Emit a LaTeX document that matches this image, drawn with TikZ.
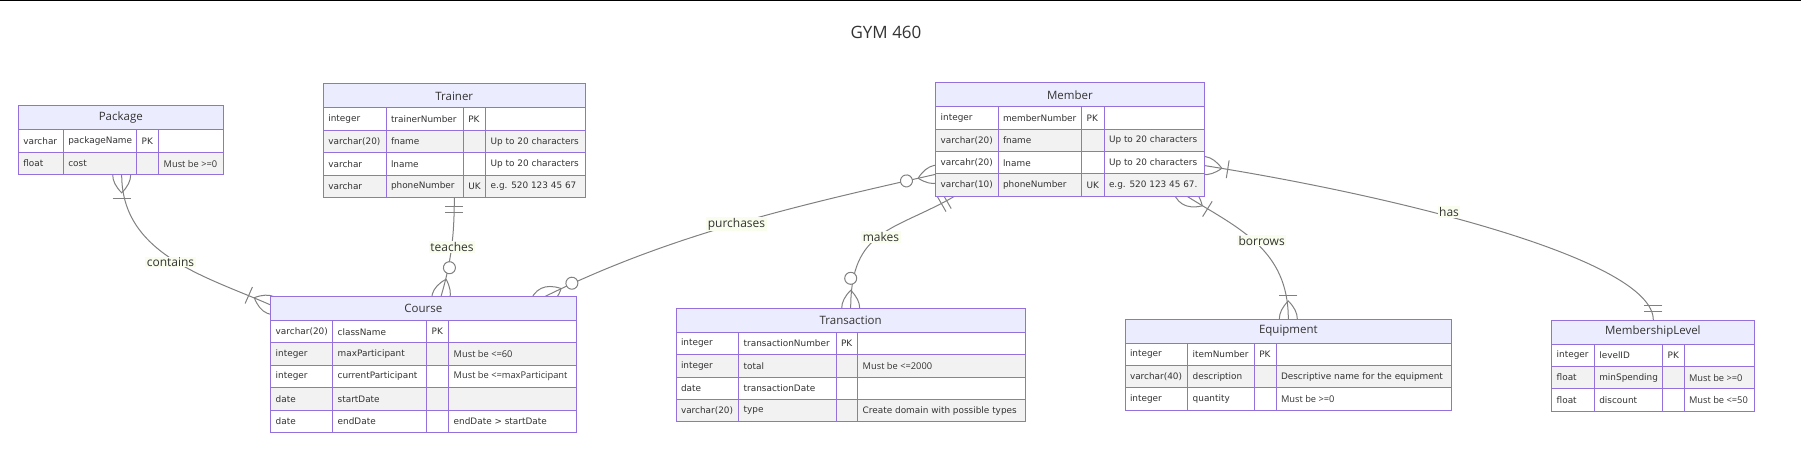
\documentclass[tikz,border=0pt]{standalone}
\usepackage{fontspec}
\setmainfont{DejaVu Sans}
\newfontfamily\hdrfont{Open Sans}
\definecolor{hdrfill}{RGB}{236,236,255}
\definecolor{erborder}{RGB}{147,112,219}
\definecolor{roweven}{RGB}{242,242,242}
\definecolor{txt}{RGB}{51,51,51}
\definecolor{relline}{RGB}{128,128,128}
\definecolor{lblbg}{RGB}{249,253,237}

\newcommand{\ermust}[1]{{\hdrfont\fontsize{9.3}{11}\selectfont #1}}

\tikzset{
  rel/.style={draw=relline, line width=1pt},
  oneormore/.pic={
    \draw[rel] (-18,0) .. controls (-6,12) and (6,12) .. (18,0) .. controls (6,-12) and (-6,-12) .. (-18,0);
    \draw[rel] (24,-9) -- (24,9);
  },
  zeroormore/.pic={
    \draw[rel] (-18,0) .. controls (-6,12) and (6,12) .. (18,0) .. controls (6,-12) and (-6,-12) .. (-18,0);
    \draw[rel, fill=white] (30,0) circle[radius=6];
  },
  onlyone/.pic={
    \draw[rel] (9,-9) -- (9,9) (15,-9) -- (15,9);
  },
  ehead/.style={draw=erborder, line width=1pt, fill=hdrfill, inner sep=0pt, outer sep=0pt,
    font=\hdrfont\fontsize{11.5}{13}\selectfont, text=txt},
  cell/.style={draw=erborder, line width=1pt, inner xsep=5pt, inner ysep=0pt, outer sep=0pt,
    minimum height=22.4pt, font=\fontsize{8.9}{11}\selectfont, text=txt, anchor=north west},
  rlabel/.style={fill=lblbg, inner xsep=1.5pt, inner ysep=1pt,
    font=\hdrfont\fontsize{12}{14}\selectfont, text=txt},
  titletext/.style={font=\hdrfont\fontsize{17}{20}\selectfont, text=txt},
}

% #1 id, #2 title, #3..#7 column edges x0..x4, #8 top y, #9 rows
\newcommand{\erentity}[9]{%
  \pgfmathsetmacro\erwidth{#7-#3}%
  \node[ehead, minimum width=\erwidth pt, minimum height=24pt, anchor=north west] (#1) at (#3,-#8) {#2};
  \pgfmathsetmacro\ercolA{#4-#3-10}%
  \pgfmathsetmacro\ercolB{#5-#4-10}%
  \pgfmathsetmacro\ercolC{#6-#5-10}%
  \pgfmathsetmacro\ercolD{#7-#6-10}%
  \foreach \ta/\na/\ka/\ca [count=\ri] in {#9} {%
    \pgfmathsetmacro\eryy{#8+24+(\ri-1)*22.4}%
    \ifodd\ri\relax \def\errf{white}\else \def\errf{roweven}\fi
    \node[cell, fill=\errf] (#1-\ri-t) at (#3,-\eryy) {\makebox[\ercolA pt][l]{\ta}};
    \node[cell, fill=\errf] (#1-\ri-n) at (#4,-\eryy) {\makebox[\ercolB pt][l]{\na}};
    \node[cell, fill=\errf] (#1-\ri-k) at (#5,-\eryy) {\makebox[\ercolC pt][l]{\ka}};
    \node[cell, fill=\errf] (#1-\ri-c) at (#6,-\eryy) {\makebox[\ercolD pt][l]{\ca}};
  }%
}

\begin{document}
\begin{tikzpicture}[x=1pt,y=1pt]
\useasboundingbox (0,0) rectangle (1801,-457);
\fill[black] (0,0) rectangle (1801,-1.5);
\node[titletext] (title) at (886,-32) {GYM 460};

% connector end points on the entity borders
\coordinate (pkgB)  at (121.7,-174.8);
\coordinate (crsL)  at (270.7,-305);
\coordinate (trnB)  at (454.3,-197.6);
\coordinate (crsT1) at (441,-296.5);
\coordinate (memL)  at (935.7,-174.3);
\coordinate (crsT2) at (545,-296.5);
\coordinate (memB1) at (954.5,-196.3);
\coordinate (trxT)  at (850.7,-308.3);
\coordinate (memB2) at (1187,-196.3);
\coordinate (eqpT)  at (1288.3,-319);
\coordinate (memR)  at (1204,-165.5);
\coordinate (mlvT)  at (1653.3,-320);

% connectors
\draw[rel] (pkgB) .. controls +(-90:80) and +(156.1:70) .. (crsL);
\draw[rel] (trnB) .. controls +(-90:40) and +(73.7:35) .. (crsT1);
\draw[rel] (memL) .. controls +(192.7:140) and +(26.3:140) .. (crsT2);
\draw[rel] (memB1) .. controls +(210:70) and +(90:80) .. (trxT);
\draw[rel] (memB2) .. controls +(-32:60) and +(90:70) .. (eqpT);
\draw[rel] (memR) .. controls +(-9:200) and +(90:60) .. (mlvT);

% end markers
\pic[rotate=-90] at (pkgB) {oneormore};
\pic[rotate=156.1] at (crsL) {oneormore};
\pic[rotate=-90] at (trnB) {onlyone};
\pic[rotate=73.7] at (crsT1) {zeroormore};
\pic[rotate=192.7] at (memL) {zeroormore};
\pic[rotate=26.3] at (crsT2) {zeroormore};
\pic[rotate=210] at (memB1) {onlyone};
\pic[rotate=90] at (trxT) {zeroormore};
\pic[rotate=-32] at (memB2) {oneormore};
\pic[rotate=90] at (eqpT) {oneormore};
\pic[rotate=-9] at (memR) {oneormore};
\pic[rotate=90] at (mlvT) {onlyone};

% relationship labels
\node[rlabel] (lcontains) at (170.5,-262) {contains};
\node[rlabel] (lteaches) at (452,-247) {teaches};
\node[rlabel] (lpurchases) at (736.5,-224) {purchases};
\node[rlabel] (lmakes) at (881,-237) {makes};
\node[rlabel] (lborrows) at (1261.6,-240.7) {borrows};
\node[rlabel] (lhas) at (1449,-212) {has};

% entities
\erentity{pkg}{Package}{18.3}{63.3}{136.7}{158.7}{223.3}{106}{varchar/packageName/PK/{}, float/cost/{}/{\ermust{Must be >=0}}}
\erentity{trn}{Trainer}{323.3}{386}{463.3}{485.7}{585.3}{84}{integer/trainerNumber/PK/{}, varchar(20)/fname/{}/Up to 20 characters, varchar/lname/{}/Up to 20 characters, varchar/phoneNumber/UK/e.g. 520 123 45 67}
\erentity{mem}{Member}{935.7}{998}{1081.7}{1104}{1204}{82.7}{integer/memberNumber/PK/{}, varchar(20)/fname/{}/Up to 20 characters, varcahr(20)/lname/{}/Up to 20 characters, varchar(10)/phoneNumber/UK/e.g. 520 123 45 67.}
\erentity{crs}{Course}{270.7}{332.7}{426.7}{448.7}{576}{296.5}{varchar(20)/className/PK/{}, integer/maxParticipant/{}/{\ermust{Must be <=60}}, integer/currentParticipant/{}/{\ermust{Must be <=maxParticipant}}, date/startDate/{}/{}, date/endDate/{}/endDate > startDate}
\erentity{trx}{Transaction}{676}{738.7}{836}{857.7}{1025.3}{308.3}{integer/transactionNumber/PK/{}, integer/total/{}/{\ermust{Must be <=2000}}, date/transactionDate/{}/{}, varchar(20)/type/{}/Create domain with possible types}
\erentity{eqp}{Equipment}{1125}{1187.7}{1254.3}{1276}{1451.7}{319}{integer/itemNumber/PK/{}, varchar(40)/description/{}/Descriptive name for the equipment, integer/quantity/{}/{\ermust{Must be >=0}}}
\erentity{mlv}{MembershipLevel}{1551.7}{1594.3}{1662.7}{1684}{1754}{320}{integer/levelID/PK/{}, float/minSpending/{}/{\ermust{Must be >=0}}, float/discount/{}/{\ermust{Must be <=50}}}
\end{tikzpicture}
\end{document}
